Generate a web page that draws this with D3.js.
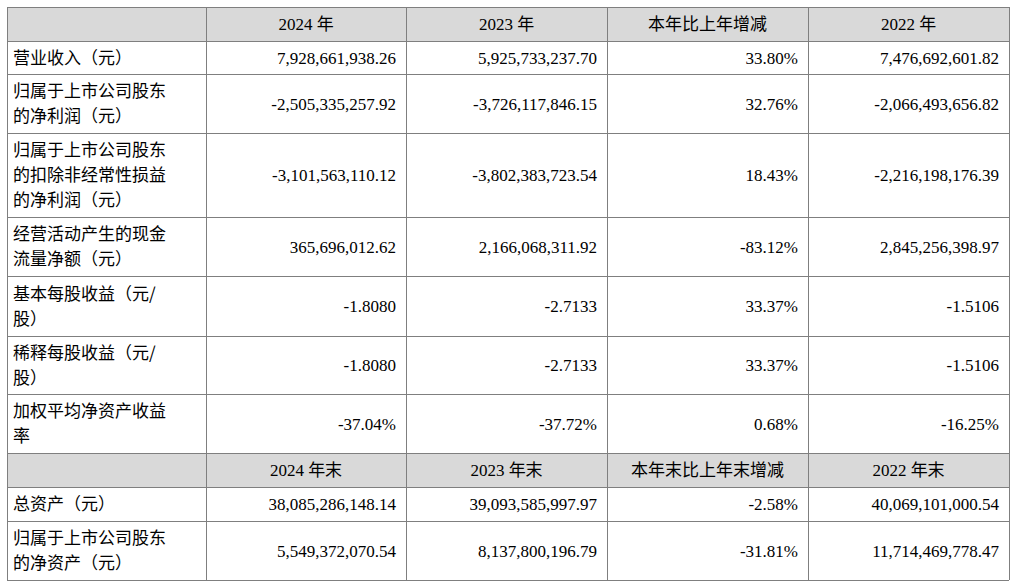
<!DOCTYPE html>
<html><head><meta charset="utf-8">
<script src="https://cdn.jsdelivr.net/npm/d3@7"></script>
<style>body{margin:0;background:#fff}</style>
</head><body>
<script>
// column headers
const header1 = ["", "2024 年", "2023 年", "本年比上年增减", "2022 年"];
const header2 = ["", "2024 年末", "2023 年末", "本年末比上年末增减", "2022 年末"];

// row labels (split into lines)
const labels1 = [
  ["营业收入（元）"],
  ["归属于上市公司股东", "的净利润（元）"],
  ["归属于上市公司股东", "的扣除非经常性损益", "的净利润（元）"],
  ["经营活动产生的现金", "流量净额（元）"],
  ["基本每股收益（元/", "股）"],
  ["稀释每股收益（元/", "股）"],
  ["加权平均净资产收益", "率"]
];
const labels2 = [
  ["总资产（元）"],
  ["归属于上市公司股东", "的净资产（元）"]
];

const values1 = [
  ["7,928,661,938.26", "5,925,733,237.70", "33.80%", "7,476,692,601.82"],
  ["-2,505,335,257.92", "-3,726,117,846.15", "32.76%", "-2,066,493,656.82"],
  ["-3,101,563,110.12", "-3,802,383,723.54", "18.43%", "-2,216,198,176.39"],
  ["365,696,012.62", "2,166,068,311.92", "-83.12%", "2,845,256,398.97"],
  ["-1.8080", "-2.7133", "33.37%", "-1.5106"],
  ["-1.8080", "-2.7133", "33.37%", "-1.5106"],
  ["-37.04%", "-37.72%", "0.68%", "-16.25%"]
];
const values2 = [
  ["38,085,286,148.14", "39,093,585,997.97", "-2.58%", "40,069,101,000.54"],
  ["5,549,372,070.54", "8,137,800,196.79", "-31.81%", "11,714,469,778.47"]
];

const colEdges = [7, 206, 406, 607, 808, 1009];
const rowHeights = [34, 33, 59, 84, 59, 60, 58, 59, 34, 34, 59];

const rows = [];
rows.push({ header: true, cells: header1 });
labels1.forEach((l, i) => rows.push({ label: l, cells: values1[i] }));
rows.push({ header: true, cells: header2 });
labels2.forEach((l, i) => rows.push({ label: l, cells: values2[i] }));

let y0 = 7;
rows.forEach((r, i) => { r.y = y0; r.h = rowHeights[i]; y0 += r.h; });

const svg = d3.select("body").append("svg").attr("width", 1016).attr("height", 588);
const cjk = "'Noto Sans CJK SC', sans-serif";
const serif = "'Liberation Serif', 'Times New Roman', serif";

const g = svg.selectAll("g.row").data(rows).join("g").attr("class", "row");

g.filter(d => d.header).append("rect")
  .attr("x", colEdges[0]).attr("y", d => d.y)
  .attr("width", colEdges[5] - colEdges[0]).attr("height", d => d.h)
  .attr("fill", "#d9d9d9");

// header text
g.filter(d => d.header).each(function(d) {
  d3.select(this).selectAll("text").data(d.cells.slice(1)).join("text")
    .attr("x", (c, j) => (colEdges[j + 1] + colEdges[j + 2]) / 2)
    .attr("y", d.y + d.h / 2 + 6)
    .attr("text-anchor", "middle")
    .attr("font-size", 17).attr("fill", "#000")
    .each(function(c) {
      const parts = c.split(" ");
      const t = d3.select(this);
      if (parts.length === 2) {
        t.append("tspan").attr("font-family", serif).text(parts[0] + " ");
        t.append("tspan").attr("font-family", cjk).text(parts[1]);
      } else t.attr("font-family", cjk).text(c);
    });
});

// data rows
g.filter(d => !d.header).each(function(d) {
  const sel = d3.select(this);
  const n = d.label.length;
  const lh = 25;
  const top = d.y + d.h / 2 - (n - 1) * lh / 2 + 6;
  sel.selectAll("text.lab").data(d.label).join("text").attr("class", "lab")
    .attr("x", 13).attr("y", (s, k) => top + k * lh)
    .attr("font-family", cjk).attr("font-size", 17).text(s => s);
  sel.selectAll("text.val").data(d.cells).join("text").attr("class", "val")
    .attr("x", (c, j) => colEdges[j + 2] - 10)
    .attr("y", d.y + d.h / 2 + 6)
    .attr("text-anchor", "end")
    .attr("font-family", serif).attr("font-size", 17).text(c => c);
});

// grid lines
const lineC = "#7f7f7f";
const ys = rows.map(r => r.y).concat([y0]);
svg.selectAll("line.h").data(ys).join("line")
  .attr("x1", colEdges[0]).attr("x2", colEdges[5])
  .attr("y1", d => d + 0.5).attr("y2", d => d + 0.5)
  .attr("stroke", lineC);
svg.selectAll("line.v").data(colEdges).join("line")
  .attr("x1", d => d + 0.5).attr("x2", d => d + 0.5)
  .attr("y1", 7).attr("y2", y0)
  .attr("stroke", lineC);
</script>
</body></html>
